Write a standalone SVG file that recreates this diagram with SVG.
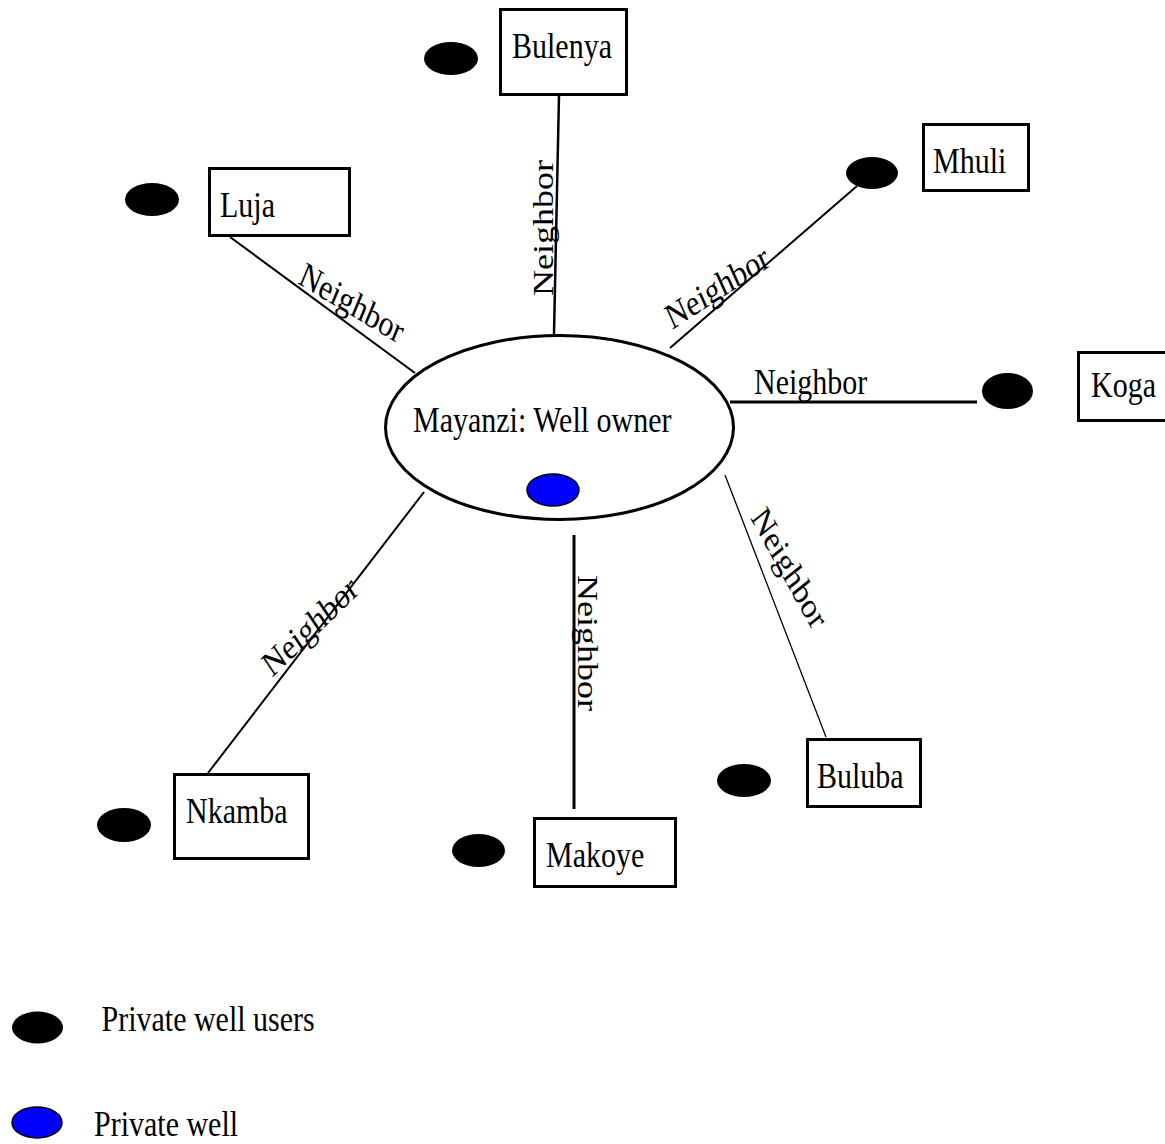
<svg xmlns="http://www.w3.org/2000/svg" width="1165" height="1144" viewBox="0 0 1165 1144">
<style>
.t{font-family:"Liberation Serif","Times New Roman",serif;font-size:30px;fill:#000}
.box{fill:#fff;stroke:#000;stroke-width:3}
.user{fill:#000}
.well{fill:#0000ff;stroke:#000;stroke-width:1.5}
.ln{stroke:#000;fill:none}
</style>
<rect width="1165" height="1144" fill="#fff"/>
<g id="connectors">
  <line class="ln" x1="230" y1="237" x2="415" y2="373" stroke-width="2"/>
  <line class="ln" x1="559" y1="95" x2="554" y2="334" stroke-width="2.5"/>
  <line class="ln" x1="857" y1="186" x2="670" y2="348" stroke-width="2"/>
  <line class="ln" x1="730" y1="402" x2="977" y2="402" stroke-width="3"/>
  <line class="ln" x1="208" y1="773" x2="424" y2="492" stroke-width="2"/>
  <line class="ln" x1="574" y1="535" x2="574" y2="809" stroke-width="3"/>
  <line class="ln" x1="725" y1="475" x2="826" y2="737" stroke-width="1.3"/>
  <text class="t" transform="translate(297,283) scale(1,1.2) rotate(26.6)">Neighbor</text>
  <text class="t" transform="translate(553,296) scale(1,1.2) rotate(-90)">Neighbor</text>
  <text class="t" transform="translate(672,330) scale(1,1.2) rotate(-28.4)">Neighbor</text>
  <text class="t" transform="translate(754,394) scale(1,1.2)">Neighbor</text>
  <text class="t" transform="translate(750,518) scale(1,1.2) rotate(56.4)">Neighbor</text>
  <text class="t" transform="translate(578,575) scale(1,1.2) rotate(90)">Neighbor</text>
  <text class="t" transform="translate(272,678) scale(1,1.2) rotate(-38.8)">Neighbor</text>
</g>
<g id="mayanzi">
  <ellipse cx="559.5" cy="427.5" rx="174" ry="92" fill="#fff" stroke="#000" stroke-width="3"/>
  <text class="t" transform="translate(413,432) scale(1,1.2)">Mayanzi: Well owner</text>
  <ellipse class="well" cx="553" cy="490" rx="26" ry="16"/>
</g>
<g id="bulenya">
  <ellipse class="user" cx="451" cy="58.5" rx="27" ry="16.5"/>
  <rect class="box" x="500.5" y="9.5" width="126" height="85"/>
  <text class="t" transform="translate(512,58) scale(1,1.2)">Bulenya</text>
</g>
<g id="luja">
  <ellipse class="user" cx="152" cy="199.5" rx="27" ry="16.5"/>
  <rect class="box" x="209.5" y="168.5" width="140" height="67"/>
  <text class="t" transform="translate(220,217) scale(1,1.2)">Luja</text>
</g>
<g id="mhuli">
  <ellipse class="user" cx="872" cy="173" rx="26" ry="16"/>
  <rect class="box" x="923.5" y="124.5" width="105" height="66"/>
  <text class="t" transform="translate(933,173) scale(1,1.2)">Mhuli</text>
</g>
<g id="koga">
  <ellipse class="user" cx="1007.5" cy="391" rx="25.5" ry="18"/>
  <rect class="box" x="1078.5" y="352.5" width="100" height="68"/>
  <text class="t" transform="translate(1091,397) scale(1,1.2)">Koga</text>
</g>
<g id="nkamba">
  <ellipse class="user" cx="124" cy="825" rx="27" ry="17"/>
  <rect class="box" x="174.5" y="774.5" width="134" height="84"/>
  <text class="t" transform="translate(186,823) scale(1,1.2)">Nkamba</text>
</g>
<g id="makoye">
  <ellipse class="user" cx="478.5" cy="850.5" rx="26.5" ry="16.5"/>
  <rect class="box" x="534.5" y="818.5" width="141" height="68"/>
  <text class="t" transform="translate(546,867) scale(1,1.2)">Makoye</text>
</g>
<g id="buluba">
  <ellipse class="user" cx="744" cy="780.5" rx="27" ry="16.5"/>
  <rect class="box" x="807.5" y="739.5" width="113" height="67"/>
  <text class="t" transform="translate(817,788) scale(1,1.2)">Buluba</text>
</g>
<g id="legend">
  <ellipse class="user" cx="37.5" cy="1027.5" rx="25.5" ry="16"/>
  <text class="t" transform="translate(101.5,1031) scale(1,1.2)">Private well users</text>
  <ellipse class="well" cx="37" cy="1122.5" rx="25" ry="15.5"/>
  <text class="t" transform="translate(94,1136) scale(1,1.2)">Private well</text>
</g>
</svg>
